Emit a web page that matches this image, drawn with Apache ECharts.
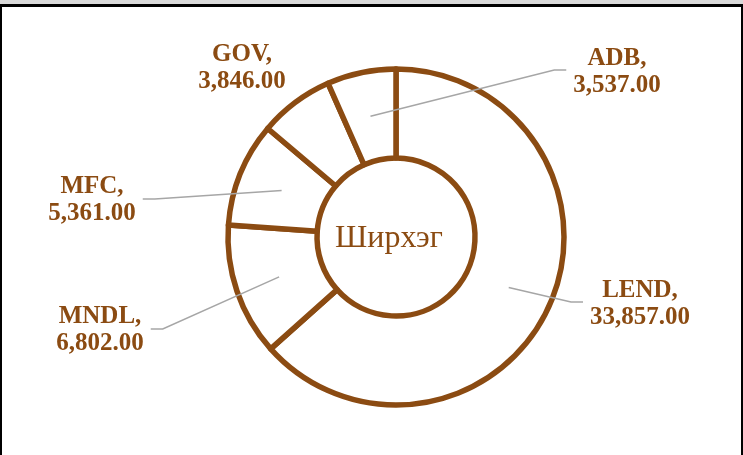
<!DOCTYPE html>
<html>
<head>
<meta charset="utf-8">
<script src="https://cdn.jsdelivr.net/npm/echarts@6/dist/echarts.min.js"></script>
<style>
html,body{margin:0;padding:0;background:#fff;}
#chart{position:absolute;left:0;top:0;width:743px;height:455px;}
#band{position:absolute;left:0;top:0;width:743px;height:4px;background:#d9d9d9;}
#frame{position:absolute;left:0;top:4px;width:739px;height:460px;border-top:3px solid #000;border-left:2px solid #000;border-right:2px solid #000;pointer-events:none;}
</style>
</head>
<body>
<div id="chart"></div>
<div id="band"></div>
<div id="frame"></div>
<script>
// Data
const categories = ['LEND', 'MNDL', 'MFC', 'GOV', 'ADB'];
const values = [33857, 6802, 5361, 3846, 3537];
const showLeader = [true, true, true, false, true];
const centerTitle = 'Ширхэг';

// Layout (not data)
const BROWN = '#8B4B12';
const CX = 396, CY = 237, R_IN = 79, R_OUT = 168;
const labelCenters = [[640, 304], [100, 330], [92, 200], [242, 68], [617, 72]];
const LABEL_FONT = 'bold 25px "Liberation Serif"';

const total = values.reduce((a, b) => a + b, 0);
const starts = [];
let acc = 0;
values.forEach(v => { starts.push(acc / total); acc += v; });

function fmt(v) {
  return v.toLocaleString('en-US', { minimumFractionDigits: 2, maximumFractionDigits: 2 });
}

const mctx = document.createElement('canvas').getContext('2d');
mctx.font = LABEL_FONT;
function labelWidth(i) {
  return Math.max(mctx.measureText(categories[i] + ',').width,
                  mctx.measureText(fmt(values[i])).width);
}

// Leader lines computed from slice geometry
const leaders = [];
categories.forEach((c, i) => {
  if (!showLeader[i]) return;
  const [lx, ly] = labelCenters[i];
  const w = labelWidth(i);
  const mid = starts[i] + values[i] / total / 2;
  const th = -Math.PI / 2 + 2 * Math.PI * mid;
  const rm = (R_IN + R_OUT) / 2;
  const anchor = [CX + rm * Math.cos(th), CY + rm * Math.sin(th)];
  let end, bend;
  if (lx > CX) {
    end = [lx - w / 2 - 7, ly - 2];
    bend = [end[0] - 12, end[1]];
  } else {
    end = [lx + w / 2 + 7, ly - 1];
    bend = [end[0] + 12, end[1]];
  }
  leaders.push({
    type: 'polyline',
    shape: { points: [anchor, bend, end] },
    style: { stroke: '#A6A6A6', lineWidth: 1.5, fill: null },
    z: 10, silent: true
  });
});

const chart = echarts.init(document.getElementById('chart'), null, { renderer: 'canvas' });

chart.setOption({
  backgroundColor: '#fff',
  animation: false,
  graphic: [{
    type: 'text',
    x: 389, y: 239,
    style: {
      text: centerTitle,
      font: '32px "Liberation Serif"',
      fill: BROWN,
      textAlign: 'center',
      textVerticalAlign: 'middle'
    },
    z: 10
  }].concat(leaders),
  series: [{
    type: 'pie',
    center: [CX, CY],
    radius: [R_IN, R_OUT],
    startAngle: 90,
    clockwise: true,
    avoidLabelOverlap: false,
    silent: true,
    itemStyle: { color: '#fff', borderColor: BROWN, borderWidth: 5.5 },
    label: {
      show: true,
      position: 'outside',
      formatter: p => p.name + ',\n' + fmt(p.value),
      fontFamily: '"Liberation Serif"',
      fontWeight: 'bold',
      fontSize: 25,
      lineHeight: 27,
      color: BROWN,
      align: 'center'
    },
    labelLine: { show: false },
    labelLayout: function (params) {
      const [lx, ly] = labelCenters[params.dataIndex];
      return { x: lx, y: ly, align: 'center', verticalAlign: 'middle' };
    },
    data: categories.map((c, i) => ({ name: c, value: values[i] }))
  }]
});
</script>
</body>
</html>
